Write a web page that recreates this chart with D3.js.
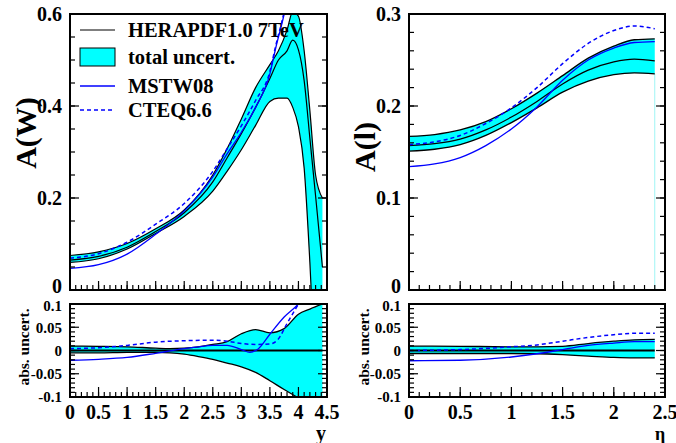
<!DOCTYPE html>
<html><head><meta charset="utf-8">
<script src="https://cdn.jsdelivr.net/npm/d3@7"></script>
<style>body{margin:0;background:#fff}svg{display:block}text{font-family:"Liberation Serif","Times New Roman",serif;font-weight:bold}</style>
</head><body><svg id="c" width="676" height="443"></svg>
<script>
// ---------- data: A(W) vs boson rapidity y ----------
const yW      = [0, 0.5, 1.0, 1.5, 2.0, 2.5, 2.75, 3.0, 3.25, 3.5, 3.65, 3.8, 3.9, 4.0, 4.1, 4.2, 4.3, 4.42];
const wHera   = [0.065,0.073,0.093,0.127,0.168,0.235,0.287,0.340,0.397,0.460,0.500,0.520,0.543,0.522,0.455,0.330,0.205,0.050];
const wUpper  = [0.075,0.083,0.101,0.133,0.174,0.250,0.307,0.372,0.440,0.490,0.520,0.565,0.605,0.595,0.520,0.390,0.250,0.200];
const wLower  = [0.060,0.068,0.089,0.123,0.160,0.215,0.258,0.305,0.358,0.410,0.417,0.417,0.397,0.355,0.265,0.060,-0.20,-0.50];
const yWm     = [0, 0.5, 1.0, 1.5, 2.0, 2.5, 2.75, 3.0, 3.25, 3.5, 3.6, 3.75, 3.85];
const wMstw   = [0.047,0.055,0.078,0.121,0.172,0.246,0.296,0.343,0.397,0.470,0.525,0.600,0.660];
const wCteq   = [0.069,0.079,0.104,0.143,0.188,0.258,0.307,0.357,0.412,0.475,0.530,0.605,0.670];
// abs. uncert. (difference to HERAPDF central) vs y
const yWd     = [0, 0.5, 1.0, 1.5, 1.75, 2.0, 2.25, 2.5, 2.75, 3.0, 3.25, 3.5, 3.75, 4.0, 4.2, 4.42];
const dWUp    = [0.0094,0.009,0.008,0.005,0.004,0.005,0.008,0.013,0.019,0.036,0.045,0.038,0.047,0.078,0.089,0.100];
const dWLow   = [-0.005,-0.005,-0.004,-0.004,-0.005,-0.008,-0.013,-0.019,-0.027,-0.035,-0.047,-0.065,-0.084,-0.102,-0.115,-0.125];
const yWdm    = [0, 0.5, 1.0, 1.5, 1.75, 2.0, 2.25, 2.5, 2.75, 3.0, 3.15, 3.3, 3.5, 3.75, 4.0, 4.2];
const dWMstw  = [-0.021,-0.019,-0.015,-0.006,-0.001,0.004,0.008,0.011,0.011,0.002,-0.004,0.004,0.035,0.072,0.100,0.130];
const yWdc    = [0, 0.5, 1.0, 1.5, 2.0, 2.5, 2.75, 3.0, 3.25, 3.5, 3.65, 3.8, 4.0, 4.2];
const dWCteq  = [0.004,0.006,0.011,0.018,0.021,0.022,0.020,0.015,0.013,0.014,0.025,0.058,0.100,0.140];

// ---------- data: A(l) vs lepton pseudorapidity eta ----------
const etaL    = [0, 0.25, 0.5, 0.75, 1.0, 1.25, 1.5, 1.75, 2.0, 2.2, 2.4];
const lHera   = [0.157,0.159,0.164,0.174,0.188,0.205,0.224,0.239,0.248,0.251,0.249];
const lUpper  = [0.167,0.169,0.174,0.183,0.197,0.214,0.233,0.252,0.265,0.272,0.273];
const lLower  = [0.151,0.153,0.158,0.168,0.182,0.198,0.215,0.227,0.234,0.236,0.235];
const lMstw   = [0.134,0.137,0.144,0.157,0.175,0.199,0.228,0.250,0.263,0.269,0.270];
const lCteq   = [0.158,0.161,0.168,0.181,0.198,0.220,0.246,0.268,0.282,0.287,0.284];
const etaLd   = [0, 0.5, 1.0, 1.25, 1.5, 1.75, 2.0, 2.2, 2.4];
const dLUp    = [0.0094,0.009,0.008,0.008,0.009,0.015,0.020,0.023,0.024];
const dLLow   = [-0.0065,-0.0065,-0.0065,-0.007,-0.009,-0.012,-0.015,-0.016,-0.016];
const dLMstw  = [-0.022,-0.021,-0.014,-0.007,0.002,0.011,0.016,0.019,0.019];
const dLCteq  = [0.000,0.002,0.008,0.012,0.020,0.028,0.034,0.037,0.037];

// ---------- tick labels ----------
const ticksAW   = ["0","0.2","0.4","0.6"];
const ticksAL   = ["0","0.1","0.2","0.3"];
const ticksDiff = ["-0.1","-0.05","0","0.05","0.1"];
const ticksY    = ["0","0.5","1","1.5","2","2.5","3","3.5","4","4.5"];
const ticksEta  = ["0","0.5","1","1.5","2","2.5"];
const legendLabels = ["HERAPDF1.0 7TeV","total uncert.","MSTW08","CTEQ6.6"];

const CYAN="#00ffff", BLUE="#0000ff";
const svg=d3.select("#c");

function panel(id,x0,x1,y0,y1,xdom,ydom){
  const x=d3.scaleLinear().domain(xdom).range([x0,x1]);
  const y=d3.scaleLinear().domain(ydom).range([y1,y0]);
  svg.append("clipPath").attr("id",id).append("rect").attr("x",x0).attr("y",y0).attr("width",x1-x0).attr("height",y1-y0);
  const g=svg.append("g").attr("clip-path",`url(#${id})`);
  return {x,y,g,x0,x1,y0,y1};
}
function zip(xs,ys){return xs.map((v,i)=>[v,ys[i]]);}
function band(p,xs,lo,up){
  const a=d3.area().x(d=>p.x(d[0])).y0(d=>p.y(d[1])).y1(d=>p.y(d[2])).curve(d3.curveMonotoneX);
  p.g.append("path").attr("d",a(xs.map((v,i)=>[v,lo[i],up[i]]))).attr("fill",CYAN);
}
function line(p,xs,ys,color,w,dash){
  const l=d3.line().x(d=>p.x(d[0])).y(d=>p.y(d[1])).curve(d3.curveMonotoneX);
  const path=p.g.append("path").attr("d",l(zip(xs,ys))).attr("fill","none").attr("stroke",color).attr("stroke-width",w);
  if(dash) path.attr("stroke-dasharray",dash);
}
function frame(p,yMajor,yMinor,xMajor,xMinor,ymaj,ymin,xmaj,xmin){
  const t=svg.append("g").attr("stroke","#000").attr("stroke-width",1.2);
  yMinor.forEach(v=>{const yy=p.y(v);
    t.append("line").attr("x1",p.x0).attr("x2",p.x0+ymin).attr("y1",yy).attr("y2",yy);
    t.append("line").attr("x1",p.x1).attr("x2",p.x1-ymin).attr("y1",yy).attr("y2",yy);});
  yMajor.forEach(v=>{const yy=p.y(v);
    t.append("line").attr("x1",p.x0).attr("x2",p.x0+ymaj).attr("y1",yy).attr("y2",yy);
    t.append("line").attr("x1",p.x1).attr("x2",p.x1-ymaj).attr("y1",yy).attr("y2",yy);});
  xMinor.forEach(v=>{const xx=p.x(v);
    t.append("line").attr("x1",xx).attr("x2",xx).attr("y1",p.y1).attr("y2",p.y1-xmin);});
  xMajor.forEach(v=>{const xx=p.x(v);
    t.append("line").attr("x1",xx).attr("x2",xx).attr("y1",p.y1).attr("y2",p.y1-xmaj);});
  svg.append("rect").attr("x",p.x0).attr("y",p.y0).attr("width",p.x1-p.x0).attr("height",p.y1-p.y0)
    .attr("fill","none").attr("stroke","#000").attr("stroke-width",2);
}
function yLabels(p,labels,size,shift){
  labels.forEach(s=>{
    const yy=p.y(+s)+(shift&&shift[s]?shift[s]:0);
    svg.append("text").attr("x",p.x0-8).attr("y",yy).attr("dy","0.35em")
    .attr("text-anchor","end").attr("font-size",size).text(s);});
}
function xLabels(p,labels,yPos,size){
  labels.forEach(s=>{svg.append("text").attr("x",p.x(+s)).attr("y",yPos)
    .attr("text-anchor","middle").attr("font-size",size).text(s);});
}
const rng=(a,b,s)=>d3.range(Math.round((b-a)/s)+1).map(i=>+(a+i*s).toFixed(6));

// ---------- panels ----------
const pW  = panel("cW", 70,327,14,290,[0,4.5],[0,0.6]);
const pWd = panel("cWd",70,327,304,397,[0,4.5],[-0.1,0.1]);
const pL  = panel("cL", 409,665,14,290,[0,2.5],[0,0.3]);
const pLd = panel("cLd",409,665,304,397,[0,2.5],[-0.1,0.1]);

// top-left
band(pW,yW,wLower,wUpper);
line(pW,yW,wUpper,"#000",1.2); line(pW,yW,wLower,"#000",1.2); line(pW,yW,wHera,"#000",1.2);
line(pW,yWm,wMstw,BLUE,1.3); line(pW,yWm,wCteq,BLUE,1.5,"4,3");
// bottom-left
band(pWd,yWd,dWLow,dWUp);
line(pWd,yWd,dWUp,"#000",1.3); line(pWd,yWd,dWLow,"#000",1.3);
line(pWd,[0,4.42],[0,0],"#000",2);
line(pWd,yWdm,dWMstw,BLUE,1.3); line(pWd,yWdc,dWCteq,BLUE,1.5,"4,3");
// top-right
band(pL,etaL,lLower,lUpper);
pL.g.append("line").attr("x1",pL.x(2.4)).attr("x2",pL.x(2.4)).attr("y1",pL.y(0)).attr("y2",pL.y(lLower[lLower.length-1]))
  .attr("stroke","#9ff5f5").attr("stroke-width",1);
line(pL,etaL,lUpper,"#000",1.3); line(pL,etaL,lLower,"#000",1.3); line(pL,etaL,lHera,"#000",1.2);
line(pL,etaL,lMstw,BLUE,1.3); line(pL,etaL,lCteq,BLUE,1.5,"4,3");
// bottom-right
band(pLd,etaLd,dLLow,dLUp);
line(pLd,etaLd,dLUp,"#000",1.3); line(pLd,etaLd,dLLow,"#000",1.3);
line(pLd,[0,2.4],[0,0],"#000",2);
line(pLd,etaLd,dLMstw,BLUE,1.3); line(pLd,etaLd,dLCteq,BLUE,1.5,"4,3");

// frames and ticks
frame(pW, rng(0,0.6,0.2), rng(0,0.6,0.05), rng(0,4.5,0.5), rng(0,4.5,0.1), 9,5,9,5);
frame(pWd,rng(-0.1,0.1,0.05), rng(-0.1,0.1,0.01), rng(0,4.5,0.5), rng(0,4.5,0.1), 9,5,10,5);
frame(pL, rng(0,0.3,0.1), rng(0,0.3,0.02), rng(0,2.5,0.5), rng(0,2.5,0.1), 9,5,9,5);
frame(pLd,rng(-0.1,0.1,0.05), rng(-0.1,0.1,0.01), rng(0,2.5,0.5), rng(0,2.5,0.1), 9,5,10,5);

// tick labels
yLabels(pW,ticksAW,20,{"0":-4}); yLabels(pL,ticksAL,20,{"0":-4});
yLabels(pWd,ticksDiff,15,{"0.1":2}); yLabels(pLd,ticksDiff,15,{"0.1":2});
xLabels(pWd,ticksY,419,20); xLabels(pLd,ticksEta,419,20);

// axis titles
svg.append("text").attr("transform","translate(36,133) rotate(-90)").attr("text-anchor","middle").attr("font-size",30).text("A(W)");
svg.append("text").attr("transform","translate(375,147) rotate(-90)").attr("text-anchor","middle").attr("font-size",30).text("A(l)");
svg.append("text").attr("transform","translate(29,347) rotate(-90)").attr("text-anchor","middle").attr("font-size",15.5).text("abs. uncert.");
svg.append("text").attr("transform","translate(369,347) rotate(-90)").attr("text-anchor","middle").attr("font-size",15.5).text("abs. uncert.");
svg.append("text").attr("x",321).attr("y",440).attr("text-anchor","middle").attr("font-size",20).text("y");
svg.append("text").attr("x",660).attr("y",440).attr("text-anchor","middle").attr("font-size",18).attr("font-weight","normal").text("η");

// legend
const lg=svg.append("g");
const rows=[30,57,86,110];
lg.append("line").attr("x1",80).attr("x2",115).attr("y1",rows[0]).attr("y2",rows[0]).attr("stroke","#000").attr("stroke-width",1.2);
lg.append("rect").attr("x",80).attr("y",48).attr("width",35).attr("height",18).attr("fill",CYAN).attr("stroke","#000").attr("stroke-width",1);
lg.append("line").attr("x1",80).attr("x2",115).attr("y1",rows[2]).attr("y2",rows[2]).attr("stroke",BLUE).attr("stroke-width",1.3);
lg.append("line").attr("x1",80).attr("x2",115).attr("y1",rows[3]).attr("y2",rows[3]).attr("stroke",BLUE).attr("stroke-width",1.5).attr("stroke-dasharray","4,3");
legendLabels.forEach((s,i)=>lg.append("text").attr("x",128).attr("y",rows[i]).attr("dy","0.35em").attr("font-size",20.5).text(s));
</script></body></html>
